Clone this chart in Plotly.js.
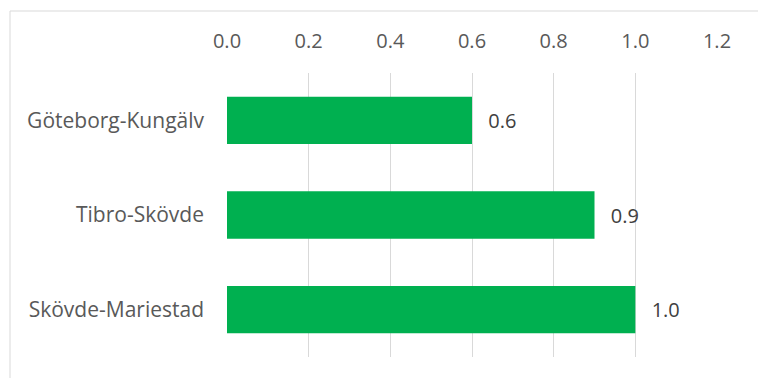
<!DOCTYPE html>
<html>
<head>
<meta charset="utf-8">
<script src="https://cdn.plot.ly/plotly-3.0.1.min.js"></script>
<style>html,body{margin:0;padding:0;background:#fff;}#chart{width:758px;height:378px;}</style>
</head>
<body>
<div id="chart"></div>
<script>
const categories = ["Göteborg-Kungälv", "Tibro-Skövde", "Skövde-Mariestad"];
const values = [0.6, 0.9, 1.0];
const tickVals = [0, 0.2, 0.4, 0.6, 0.8, 1.0, 1.2];
const tickText = ["0.0", "0.2", "0.4", "0.6", "0.8", "1.0", "1.2"];

const FONT = "'Open Sans', sans-serif";

const trace = {
  type: "bar",
  orientation: "h",
  y: categories,
  x: values,
  width: 0.5,
  marker: {color: "#00B050"},
  texttemplate: "\u2002\u2009%{x:.1f}",
  textposition: "outside",
  textfont: {family: FONT, size: 20, color: "#404040"},
  cliponaxis: false,
  hoverinfo: "none"
};

const layout = {
  width: 758, height: 378,
  margin: {l: 227, r: 41, t: 73, b: 21},
  paper_bgcolor: "#ffffff",
  plot_bgcolor: "#ffffff",
  showlegend: false,
  font: {family: FONT, size: 21, color: "#595959"},
  xaxis: {
    range: [0, 1.2],
    side: "top",
    tickvals: tickVals,
    ticktext: tickText,
    showgrid: true,
    gridcolor: "#d9d9d9",
    gridwidth: 1,
    zeroline: false,
    showline: false,
    ticks: "",
    ticklabelstandoff: 20,
    tickfont: {family: FONT, size: 20, color: "#595959"},
    fixedrange: true
  },
  yaxis: {
    type: "category",
    categoryorder: "array",
    categoryarray: categories,
    autorange: "reversed",
    showgrid: false,
    zeroline: false,
    showline: false,
    ticks: "",
    ticklabelstandoff: 22,
    tickfont: {family: FONT, size: 21, color: "#595959"},
    fixedrange: true
  },
  shapes: [{
    type: "rect", xref: "paper", yref: "paper",
    x0: (10 - 227) / (758 - 227 - 41), x1: (762 - 227) / (758 - 227 - 41),
    y0: (357 - 382) / (378 - 73 - 21), y1: (357 - 11) / (378 - 73 - 21),
    line: {color: "#d9d9d9", width: 1}, fillcolor: "rgba(0,0,0,0)", layer: "below"
  }]
};

Plotly.newPlot("chart", [trace], layout, {displayModeBar: false, staticPlot: true});
</script>
</body>
</html>
